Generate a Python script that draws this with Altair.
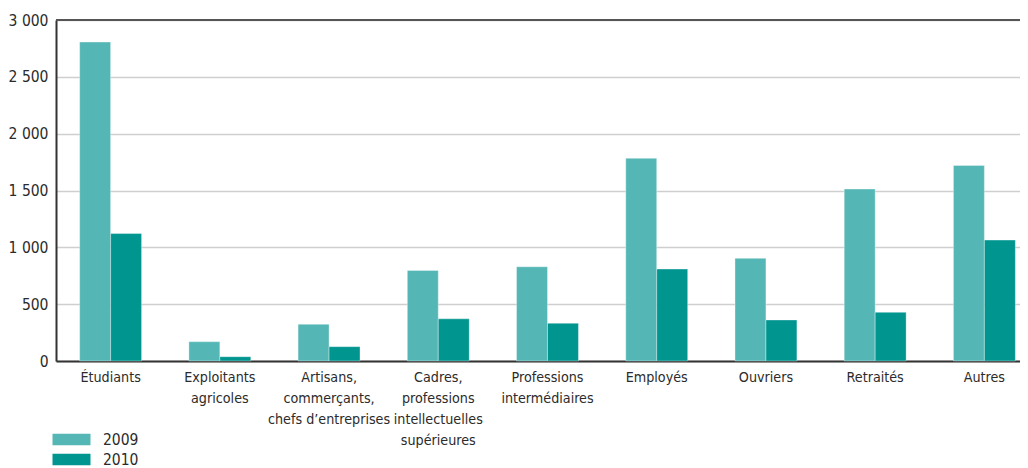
import altair as alt
import pandas as pd

categories = [
    "Étudiants",
    "Exploitants\nagricoles",
    "Artisans,\ncommerçants,\nchefs d’entreprises",
    "Cadres,\nprofessions\nintellectuelles\nsupérieures",
    "Professions\nintermédiaires",
    "Employés",
    "Ouvriers",
    "Retraités",
    "Autres",
]
years = ["2009", "2010"]
values_2009 = [2806, 170, 323, 797, 829, 1783, 903, 1513, 1721]
values_2010 = [1121, 38, 126, 371, 332, 809, 361, 428, 1064]
y_ticks = [0, 500, 1000, 1500, 2000, 2500, 3000]
colors = ["#55b7b5", "#00958f"]

rows = []
for c, a, b in zip(categories, values_2009, values_2010):
    rows.append({"cat": c, "year": years[0], "value": a})
    rows.append({"cat": c, "year": years[1], "value": b})
df = pd.DataFrame(rows)

FONT = "DejaVu Sans Condensed, Roboto, sans-serif"
W, H = 964, 341

bars = alt.Chart(df).mark_bar(stroke="white", strokeWidth=1, strokeOpacity=0.35).encode(
    x=alt.X(
        "cat:N",
        sort=categories,
        scale=alt.Scale(range=[0, 983], paddingInner=0.433, paddingOuter=0.2165),
        axis=alt.Axis(
            title=None,
            labelAngle=0,
            ticks=False,
            labelPadding=9,
            labelExpr="split(datum.label, '\\n')",
            labelFontSize=14.2,
            labelLineHeight=21.3,
            labelColor="#2b2b2b",
            labelFont=FONT,
            domainColor="#333333",
            domainWidth=2,
            labelBaseline="top",
        ),
    ),
    xOffset=alt.XOffset("year:N", sort=years, scale=alt.Scale(paddingInner=0, paddingOuter=0)),
    y=alt.Y(
        "value:Q",
        scale=alt.Scale(domain=[0, 3000], nice=False),
        axis=alt.Axis(
            title=None,
            values=y_ticks,
            ticks=False,
            labelPadding=8,
            labelFontSize=15.5,
            labelColor="#2b2b2b",
            labelFont=FONT,
            labelExpr="replace(format(datum.value, ','), ',', ' ')",
            domainColor="#333333",
            domainWidth=2,
            grid=True,
            gridColor="#cfcfcf",
            gridWidth=1.5,
        ),
    ),
    color=alt.Color(
        "year:N",
        scale=alt.Scale(domain=years, range=colors),
        legend=alt.Legend(
            title=None,
            orient="none",
            legendX=6,
            legendY=410,
            padding=0,
            symbolType="M-2,-0.6H2V0.6H-2Z",
            symbolSize=361,
            symbolStrokeWidth=0,
            symbolOpacity=1,
            labelFontSize=15.5,
            labelFont=FONT,
            labelColor="#2b2b2b",
            labelOffset=22,
            rowPadding=2,
        ),
    ),
)

top_rule = alt.Chart(alt.Data(values=[{"a": 1}])).mark_rule(color="#555555", strokeWidth=2).encode(
    x=alt.value(0), x2=alt.value(W), y=alt.value(0)
)

chart = alt.layer(bars, top_rule).properties(
    width=W,
    height=H,
    autosize=alt.AutoSizeParams(type="none"),
    padding={"left": 48, "top": 12, "right": 0, "bottom": 107},
).configure_view(stroke=None).configure(font=FONT)

chart.save("out.html", embed_options={"renderer": "svg", "actions": False})
